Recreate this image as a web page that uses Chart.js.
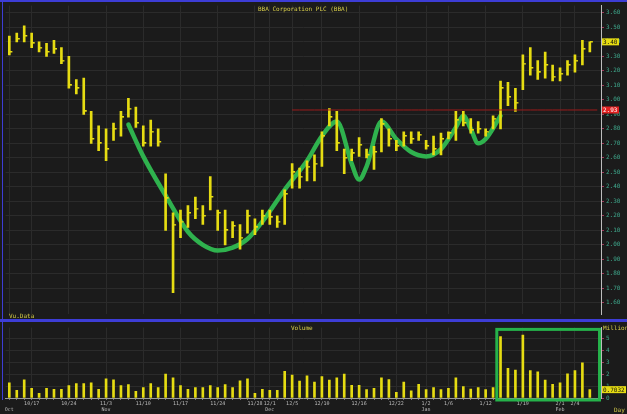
<!DOCTYPE html>
<html>
<head>
<meta charset="utf-8">
<script src="https://cdn.jsdelivr.net/npm/chart.js@4.4.1/dist/chart.umd.min.js"></script>
<style>
    body { margin: 0; background: #1b1b1b; }
    #wrap { position: relative; width: 627px; height: 414px; background: #1b1b1b; overflow: hidden; font-family: "DejaVu Sans Mono", monospace; }
    #priceBox { position: absolute; left: 0; top: 0; width: 627px; height: 320px; }
    #volBox { position: absolute; left: 0; top: 322px; width: 627px; height: 92px; }
    .txt { position: absolute; color: #d6cc4a; font-size: 6px; white-space: nowrap; line-height: 6px; }
    .rule { position: absolute; background: #3d3dd6; }
</style>
</head>
<body>
<div id="wrap">
    <div id="priceBox"><canvas id="price-chart"></canvas></div>
    <div id="volBox"><canvas id="volume-chart"></canvas></div>
    <div class="rule" style="left:0;top:0;width:627px;height:2px;"></div>
    <div class="rule" style="left:2px;top:0;width:1px;height:400px;"></div>
    <div class="rule" style="left:0;top:319px;width:627px;height:3px;"></div>
    <div class="txt" style="left:258px;top:6px;">BBA Corporation PLC (BBA)</div>
    <div class="txt" style="left:9px;top:313px;">Vu.Data</div>
    <div class="txt" style="left:291px;top:325px;">Volume</div>
    <div class="txt" style="left:603px;top:325px;">Millions</div>
    <div class="txt" style="left:614px;top:407px;">Day</div>
</div>
<script>
// daily bars (price in GBP, volume in millions)
const highs = [3.44, 3.46, 3.51, 3.46, 3.40, 3.39, 3.41, 3.36, 3.30, 3.14,
    3.15, 2.92, 2.82, 2.80, 2.84, 2.92, 3.01, 2.95, 2.82, 2.86,
    2.80, 2.49, 2.22, 2.24, 2.27, 2.33, 2.27, 2.47, 2.24, 2.24,
    2.16, 2.14, 2.24, 2.18, 2.24, 2.24, 2.20, 2.38, 2.56, 2.53,
    2.58, 2.62, 2.78, 2.94, 2.92, 2.66, 2.66, 2.74, 2.66, 2.68,
    2.87, 2.80, 2.72, 2.78, 2.78, 2.78, 2.72, 2.75, 2.77, 2.78,
    2.92, 2.92, 2.87, 2.85, 2.80, 2.89, 3.13, 3.12, 3.08, 3.31,
    3.36, 3.27, 3.33, 3.24, 3.22, 3.27, 3.31, 3.41, 3.40];
const lows = [3.31, 3.40, 3.40, 3.36, 3.33, 3.30, 3.32, 3.25, 3.08, 3.04,
    2.90, 2.70, 2.65, 2.58, 2.72, 2.75, 2.88, 2.81, 2.68, 2.68,
    2.68, 2.10, 1.67, 2.05, 2.12, 2.18, 2.14, 2.24, 2.10, 2.00,
    2.05, 1.97, 2.08, 2.07, 2.14, 2.14, 2.12, 2.14, 2.39, 2.39,
    2.44, 2.44, 2.54, 2.82, 2.65, 2.49, 2.58, 2.61, 2.60, 2.52,
    2.64, 2.68, 2.65, 2.68, 2.70, 2.72, 2.66, 2.62, 2.62, 2.73,
    2.72, 2.82, 2.77, 2.77, 2.75, 2.80, 2.80, 2.96, 2.92, 3.07,
    3.17, 3.14, 3.15, 3.13, 3.13, 3.17, 3.19, 3.24, 3.33];
const closes = [3.33, 3.42, 3.44, 3.39, 3.36, 3.33, 3.35, 3.27, 3.10, 3.08,
    2.92, 2.73, 2.70, 2.66, 2.80, 2.88, 2.94, 2.84, 2.70, 2.78,
    2.71, 2.32, 2.14, 2.16, 2.22, 2.25, 2.20, 2.33, 2.22, 2.10,
    2.13, 2.05, 2.20, 2.12, 2.20, 2.19, 2.16, 2.35, 2.50, 2.47,
    2.54, 2.56, 2.75, 2.88, 2.70, 2.60, 2.63, 2.69, 2.62, 2.64,
    2.83, 2.73, 2.68, 2.75, 2.73, 2.76, 2.68, 2.66, 2.73, 2.77,
    2.86, 2.84, 2.79, 2.80, 2.78, 2.87, 3.08, 3.02, 2.98, 3.25,
    3.22, 3.19, 3.24, 3.16, 3.18, 3.24, 3.27, 3.35, 3.40];
const volumes = [1.28, 0.64, 1.52, 0.80, 0.40, 0.80, 0.72, 0.72, 1.04, 1.20,
    1.20, 1.28, 0.72, 1.60, 1.52, 1.04, 1.12, 0.56, 0.88, 1.20,
    0.88, 2.00, 1.68, 1.04, 0.72, 0.88, 0.88, 1.04, 0.88, 1.12,
    0.88, 1.44, 1.60, 0.40, 0.72, 0.64, 0.64, 2.24, 1.92, 1.42,
    1.86, 1.34, 1.80, 1.50, 1.68, 2.00, 1.06, 1.06, 0.70, 0.80,
    1.68, 1.54, 0.48, 1.33, 0.61, 1.14, 0.70, 0.88, 0.70, 0.80,
    1.68, 0.96, 0.74, 0.88, 0.70, 0.88, 5.14, 2.48, 2.34, 5.28,
    2.30, 2.20, 1.50, 1.14, 1.28, 2.02, 2.30, 2.94, 0.70];

// the hand drawn cup & handle (bar index -> price)
const cupIdx = [16, 18, 21, 24, 26, 28, 30, 32, 34, 37, 40, 42, 44, 46, 47, 48, 50, 52, 54, 56, 58, 60, 61, 62, 63, 64, 66];
const cupVal = [2.83, 2.61, 2.34, 2.09, 2.00, 1.96, 1.98, 2.04, 2.16, 2.38, 2.58, 2.75, 2.85, 2.56, 2.45, 2.54, 2.85, 2.73, 2.64, 2.61, 2.66, 2.81, 2.89, 2.80, 2.70, 2.73, 2.89];

// resistance line
const resistLevel = 2.93;
const resistFrom = 38;

// axis ticks
const priceTicks = [1.60, 1.70, 1.80, 1.90, 2.00, 2.10, 2.20, 2.30, 2.40, 2.50, 2.60, 2.70, 2.80, 2.90, 3.00, 3.10, 3.20, 3.30, 3.40, 3.50, 3.60];
const volTicks = [0, 1, 2, 3, 4, 5];
const dateIdx = [0, 3, 8, 13, 18, 23, 28, 33, 35, 38, 42, 47, 52, 56, 59, 64, 69, 74, 76];
const dateTop = ['', '10/17', '10/24', '11/3', '11/10', '11/17', '11/24', '11/28', '12/1', '12/5', '12/10', '12/16', '12/22', '1/2', '1/6', '1/12', '1/19', '2/1', '2/4'];
const dateBottom = ['Oct', '', '', 'Nov', '', '', '', '', 'Dec', '', '', '', '', 'Jan', '', '', '', 'Feb', ''];

// one spare slot on the right, like the terminal leaves
const slots = highs.map((_, i) => String(i)).concat(['']);

const YELLOW = '#e6dc12';
const TEAL = '#3fa88c';
const GRID = '#2b2b2b';
const MONO = '"DejaVu Sans Mono", monospace';

/** small tick image used for the close mark (right half only) */
function makeCloseTick() {
    const c = document.createElement('canvas');
    c.width = 8; c.height = 2;
    const g = c.getContext('2d');
    g.fillStyle = YELLOW;
    g.fillRect(4, 0, 3, 1.5);
    return c;
}

// draws the last price / level boxes on the right axis
const axisTag = {
    id: 'axisTag',
    afterDraw(chart, args, opts) {
        const y = chart.scales.y;
        const ctx = chart.ctx;
        (opts.tags || []).forEach(t => {
            const py = y.getPixelForValue(t.value);
            ctx.save();
            ctx.fillStyle = t.bg;
            ctx.fillRect(y.left + 1, py - 3.5, t.w || 17, 7);
            ctx.fillStyle = t.fg;
            ctx.font = '6px ' + MONO;
            ctx.textBaseline = 'middle';
            ctx.fillText(t.text, y.left + 2, py + 0.5);
            ctx.restore();
        });
    }
};

// green box round the breakout volume
const volBox = {
    id: 'volBox',
    afterDatasetsDraw(chart, args, opts) {
        if (!opts.show) return;
        const x = chart.scales.x, y = chart.scales.y, ctx = chart.ctx;
        const left = x.getPixelForValue(opts.from);
        const right = x.getPixelForValue(opts.to);
        const top = y.getPixelForValue(opts.top);
        const bottom = chart.chartArea.bottom + 2;
        ctx.save();
        ctx.strokeStyle = '#25b24a';
        ctx.lineWidth = 3;
        ctx.strokeRect(left, top, right - left, bottom - top);
        ctx.restore();
    }
};

const dateGrid = ctx => dateIdx.includes(ctx.index) ? GRID : 'rgba(0,0,0,0)';

const priceChart = new Chart(document.getElementById('price-chart'), {
    data: {
        labels: slots,
        datasets: [{
            type: 'line',
            data: slots.map((_, i) => i >= resistFrom ? resistLevel : null),
            borderColor: '#9c1c1c',
            borderWidth: 1,
            pointRadius: 0
        }, {
            type: 'bar',
            data: highs.map((h, i) => [lows[i], h]),
            backgroundColor: YELLOW,
            barThickness: 2
        }, {
            type: 'line',
            data: closes,
            showLine: false,
            pointStyle: makeCloseTick(),
            pointRadius: 4
        }, {
            type: 'line',
            data: slots.map((_, i) => cupIdx.includes(i) ? cupVal[cupIdx.indexOf(i)] : null),
            spanGaps: true,
            borderColor: '#2fb24e',
            borderWidth: 4.5,
            cubicInterpolationMode: 'monotone',
            pointRadius: 0,
            borderCapStyle: 'round'
        }]
    },
    options: {
        animation: false,
        responsive: true,
        maintainAspectRatio: false,
        layout: { padding: { left: 5.6, top: 5, bottom: 2, right: 0 } },
        plugins: {
            legend: { display: false },
            tooltip: { enabled: false },
            axisTag: {
                tags: [
                    { value: closes[closes.length - 1], text: '3.40', bg: YELLOW, fg: '#111' },
                    { value: resistLevel, text: resistLevel.toFixed(2), bg: '#e02020', fg: '#fff' }
                ]
            }
        },
        scales: {
            x: {
                offset: true,
                ticks: { display: false },
                border: { display: false },
                grid: { color: dateGrid, drawTicks: false, offset: false },
                afterFit: s => { s.height = 0; }
            },
            y: {
                position: 'right',
                min: 1.52,
                max: 3.65,
                afterBuildTicks: s => { s.ticks = priceTicks.map(v => ({ value: v })); },
                afterFit: s => { s.width = 26; },
                border: { color: '#bdbdbd', width: 1 },
                grid: { color: GRID, tickColor: '#a03a5a', tickLength: 3 },
                ticks: { color: TEAL, padding: 2, font: { family: MONO, size: 6 }, callback: v => v.toFixed(2) }
            }
        }
    },
    plugins: [axisTag]
});

const volumeChart = new Chart(document.getElementById('volume-chart'), {
    type: 'bar',
    data: {
        labels: slots,
        datasets: [{
            data: volumes,
            backgroundColor: YELLOW,
            barThickness: 2
        }]
    },
    options: {
        animation: false,
        responsive: true,
        maintainAspectRatio: false,
        layout: { padding: { left: 5.6, top: 1, bottom: 0, right: 0 } },
        plugins: {
            legend: { display: false },
            tooltip: { enabled: false },
            volBox: { show: true, from: 65.5, to: 79.3, top: 5.75 },
            axisTag: {
                tags: [{ value: volumes[volumes.length - 1], text: '0.7032', bg: YELLOW, fg: '#111', w: 24 }]
            }
        },
        scales: {
            x: {
                offset: true,
                border: { color: '#9a9a9a' },
                grid: { color: dateGrid, tickColor: '#777', tickLength: 2, offset: false },
                ticks: {
                    autoSkip: false,
                    maxRotation: 0,
                    padding: 0,
                    color: '#bdbdbd',
                    font: { family: MONO, size: 5, lineHeight: 1.3 },
                    callback: (v, i) => {
                        const k = dateIdx.indexOf(i);
                        return k < 0 ? '' : [dateTop[k], dateBottom[k]];
                    }
                },
                afterFit: s => { s.height = 16; }
            },
            y: {
                position: 'right',
                min: 0,
                max: 5.9,
                afterBuildTicks: s => { s.ticks = volTicks.map(v => ({ value: v })); },
                afterFit: s => { s.width = 26; },
                border: { color: '#bdbdbd', width: 1 },
                grid: { color: GRID, tickColor: '#a03a5a', tickLength: 3 },
                ticks: { color: TEAL, padding: 2, font: { family: MONO, size: 6 } }
            }
        }
    },
    plugins: [axisTag, volBox]
});
</script>
</body>
</html>
